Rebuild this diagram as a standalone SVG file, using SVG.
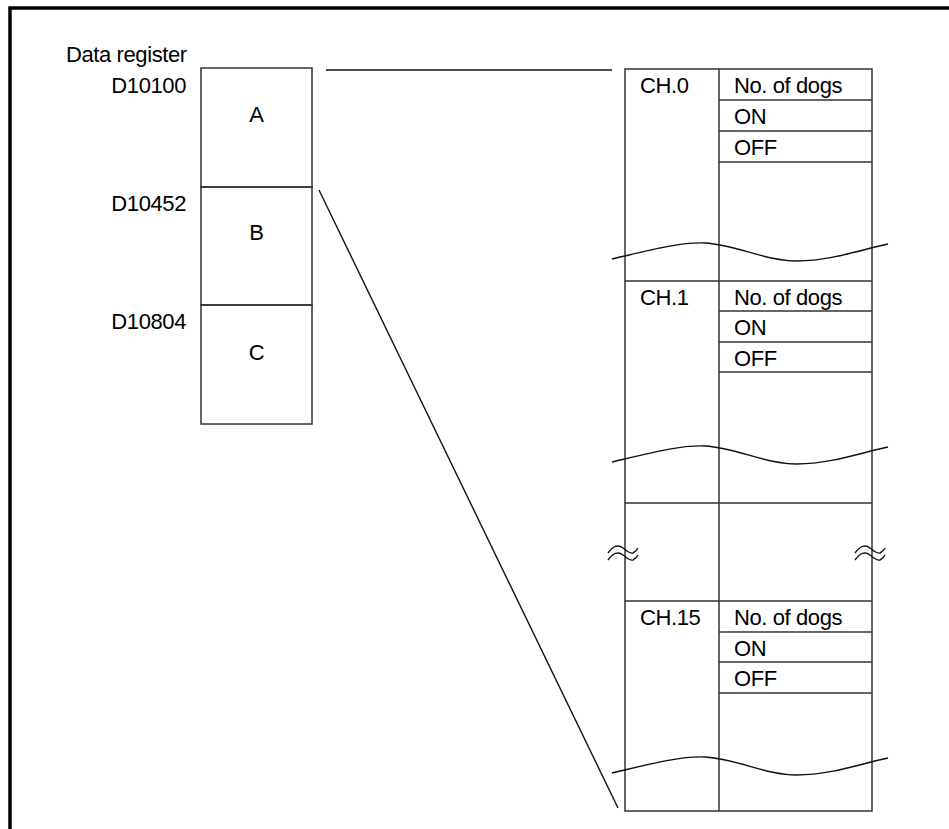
<svg xmlns="http://www.w3.org/2000/svg" width="949" height="829" viewBox="0 0 949 829">
<style>
text{font-family:"Liberation Sans",Arial,sans-serif;font-size:22px;letter-spacing:-0.4px;fill:#000}
.ln{stroke:#333;stroke-width:1.5;fill:none}
.wv{stroke:#111;stroke-width:1.4;fill:none}
.mid{text-anchor:middle}
.end{text-anchor:end}
</style>
<defs>
<path id="wave" d="M612,259 C650,250 680,242 705,243 C738,245 765,261 797,261 C830,261 860,250 888,244"/>
<g id="squig">
<path d="M-17,3 C-12,-4 -7,-6 -2,-2 C2,1 5,4 8,3 C10,2 12,0 13,-2"/>
<path d="M-17,10 C-12,3 -7,1 -2,5 C2,8 5,11 8,10 C10,9 12,7 13,5"/>
</g>
</defs>
<rect width="949" height="829" fill="#fff"/>
<path d="M10,840 V8 H960" stroke="#000" stroke-width="3.5" fill="none"/>

<g id="register-labels">
<text x="66" y="62">Data register</text>
<text class="end" x="186" y="93">D10100</text>
<text class="end" x="186" y="211">D10452</text>
<text class="end" x="186" y="329">D10804</text>
</g>

<g id="block-A">
<rect class="ln" x="201" y="68" width="111" height="119"/>
<text class="mid" x="256.5" y="122">A</text>
</g>
<g id="block-B">
<rect class="ln" x="201" y="187" width="111" height="118"/>
<text class="mid" x="256.5" y="240">B</text>
</g>
<g id="block-C">
<rect class="ln" x="201" y="305" width="111" height="119"/>
<text class="mid" x="256.5" y="360">C</text>
</g>

<g id="table">
<rect class="ln" x="625" y="69" width="247" height="742"/>
<line class="ln" x1="719" y1="69" x2="719" y2="811"/>
<line class="ln" x1="625" y1="281" x2="872" y2="281"/>
<line class="ln" x1="625" y1="503" x2="872" y2="503"/>
<line class="ln" x1="625" y1="601" x2="872" y2="601"/>
</g>

<g id="ch0">
<line class="ln" x1="719" y1="100" x2="872" y2="100"/>
<line class="ln" x1="719" y1="131" x2="872" y2="131"/>
<line class="ln" x1="719" y1="162" x2="872" y2="162"/>
<text x="640" y="93">CH.0</text>
<text x="734" y="93">No. of dogs</text>
<text x="734" y="124">ON</text>
<text x="734" y="155">OFF</text>
</g>

<g id="ch1">
<line class="ln" x1="719" y1="311" x2="872" y2="311"/>
<line class="ln" x1="719" y1="342" x2="872" y2="342"/>
<line class="ln" x1="719" y1="372" x2="872" y2="372"/>
<text x="640" y="305">CH.1</text>
<text x="734" y="305">No. of dogs</text>
<text x="734" y="335">ON</text>
<text x="734" y="366">OFF</text>
</g>

<g id="ch15">
<line class="ln" x1="719" y1="632" x2="872" y2="632"/>
<line class="ln" x1="719" y1="662" x2="872" y2="662"/>
<line class="ln" x1="719" y1="693" x2="872" y2="693"/>
<text x="640" y="625">CH.15</text>
<text x="734" y="625">No. of dogs</text>
<text x="734" y="656">ON</text>
<text x="734" y="686">OFF</text>
</g>

<g id="breaks" class="wv">
<use href="#wave"/>
<use href="#wave" transform="translate(0,203)"/>
<use href="#wave" transform="translate(0,514)"/>
<use href="#squig" transform="translate(625,550)"/>
<use href="#squig" transform="translate(872,550)"/>
</g>

<g id="connectors">
<line class="wv" x1="326" y1="70" x2="612" y2="70"/>
<line class="wv" x1="319" y1="190" x2="618" y2="808"/>
</g>
</svg>
